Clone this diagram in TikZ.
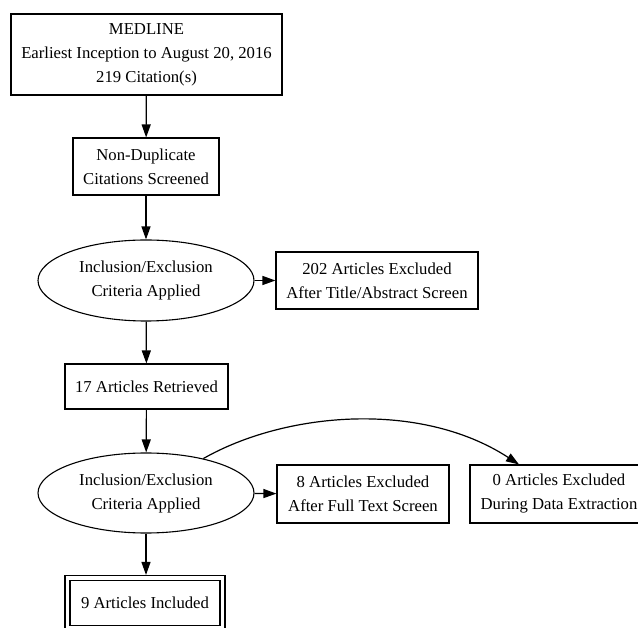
\documentclass[tikz,border=0pt]{standalone}
\usepackage{fontspec}
\setmainfont{Liberation Serif}
\usetikzlibrary{shapes.geometric,arrows.meta,calc}
\begin{document}
\begin{tikzpicture}[x=1pt,y=-1pt,
  every node/.style={font=\fontsize{16.7}{24}\selectfont, align=center, inner sep=0pt, line width=1.1pt},
  boxn/.style={draw, rectangle, minimum width=#1},
  ell/.style={draw, ellipse, minimum width=216pt, minimum height=81pt},
  conn/.style={line width=1.2pt, -{Triangle[length=13pt,width=9pt]}}
]
\useasboundingbox (0,0) rectangle (638,628);
\begin{scope}
\clip (0,0) rectangle (638,628);
\node[boxn=271pt, minimum height=81pt] (med) at (146.5,54.5) {MEDLINE\\Earliest Inception to August 20, 2016\\219 Citation(s)};
\node[boxn=146pt, minimum height=57pt] (nd) at (146,166.5) {Non-Duplicate\\Citations Screened};
\node[ell] (e1) at (146,280.5) {Inclusion/Exclusion\\Criteria Applied};
\node[boxn=202pt, minimum height=57pt] (x1) at (377,280.5) {202 Articles Excluded\\After Title/Abstract Screen};
\node[boxn=163pt, minimum height=45pt] (r17) at (146.5,386.5) {17 Articles Retrieved};
\node[ell, minimum height=80pt] (e2) at (146,493) {Inclusion/Exclusion\\Criteria Applied};
\node[boxn=172pt, minimum height=58pt] (x2) at (363,494) {8 Articles Excluded\\After Full Text Screen};
\node[boxn=178pt, minimum height=58pt] (x3) at (559,494) {0 Articles Excluded\\During Data Extraction};
\node[boxn=150pt, minimum height=45pt] (inc) at (145,603) {9 Articles Included};
\node[draw, rectangle, minimum width=160pt, minimum height=55pt, line width=1.1pt] (incout) at (145,603) {};
\draw[conn] (med) -- (nd);
\draw[conn] (nd) -- (e1);
\draw[conn] (e1) -- (x1);
\draw[conn] (e1) -- (r17);
\draw[conn] (r17) -- (e2);
\draw[conn] (e2) -- (x2);
\draw[conn] (e2) -- (incout.north -| e2);
\draw[conn] (e2.31.5) .. controls (285,412) and (420,400) .. ([xshift=-40pt]x3.north);
\end{scope}
\end{tikzpicture}
\end{document}
